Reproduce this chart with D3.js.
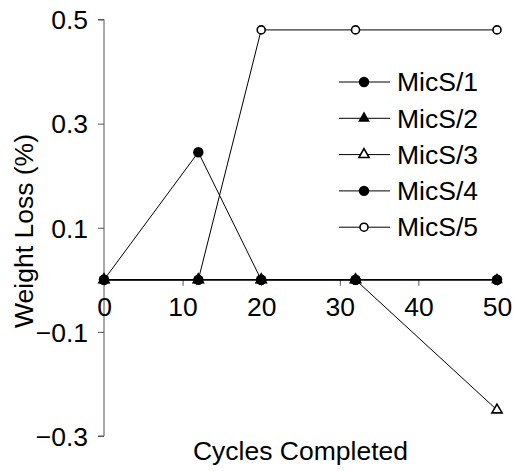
<!DOCTYPE html>
<html>
<head>
<meta charset="utf-8">
<script src="https://cdn.jsdelivr.net/npm/d3@7"></script>
<style>
  body { margin: 0; background: #fff; }
  text { font-family: Arial, "Liberation Sans", sans-serif; fill: #000; }
</style>
</head>
<body>
<script>
const width = 514;
const height = 471;

// Data.
const cycles = [0, 12, 20, 32, 50];
const seriesNames = ["MicS/1", "MicS/2", "MicS/3", "MicS/4", "MicS/5"];
const mics1 = [0, 0.245, 0, 0, 0];
const mics2 = [0, 0, 0, 0, 0];
const mics3 = [0, 0, 0, 0, -0.25];
const mics4 = [0, 0, 0, 0, 0];
const mics5 = [0, 0, 0.48, 0.48, 0.48];
const xTicks = [0, 10, 20, 30, 40, 50];
const yTicks = [0.5, 0.3, 0.1, -0.1, -0.3];

const seriesValues = [mics1, mics2, mics3, mics4, mics5];
// marker type per series
const markers = ["dot", "tri", "opentri", "dot", "ring"];

const svg = d3.select("body").append("svg")
  .attr("width", width)
  .attr("height", height);

const x = d3.scaleLinear().domain([0, 50]).range([104, 497]);
const y = d3.scaleLinear().domain([-0.3, 0.5]).range([436, 19.5]);

const fontSize = 26.5;

// Y axis (gray line, ticks to the left).
const yAxis = svg.append("g")
  .attr("transform", `translate(${x(0)},0)`)
  .call(d3.axisLeft(y).tickValues(yTicks).tickSize(6).tickPadding(10)
    .tickFormat(d3.format(".1f")));
yAxis.select(".domain").attr("stroke", "#555").attr("d", `M0,${y(0.5)}V${y(-0.3)}M-6,${y(0.5)}H0M-6,${y(-0.3)}H0`);
yAxis.selectAll(".tick line").attr("stroke", "#555");
yAxis.selectAll(".tick text").style("font-size", fontSize + "px").attr("dy", "0.35em");

// X axis crossing at zero.
const xAxis = svg.append("g")
  .attr("transform", `translate(0,${y(0)})`)
  .call(d3.axisBottom(x).tickValues(xTicks).tickSize(6).tickPadding(11)
    .tickFormat(d3.format("d")));
xAxis.select(".domain").attr("stroke", "#555").attr("d", `M${x(0)},0H${x(50)}`);
xAxis.selectAll(".tick line").attr("stroke", "#555");
xAxis.selectAll(".tick text").style("font-size", fontSize + "px");

// Axis titles.
svg.append("text")
  .attr("x", (x(0) + x(50)) / 2)
  .attr("y", 460)
  .attr("text-anchor", "middle")
  .style("font-size", fontSize + "px")
  .text("Cycles Completed");

svg.append("text")
  .attr("transform", `translate(33,${231}) rotate(-90)`)
  .attr("text-anchor", "middle")
  .style("font-size", fontSize + "px")
  .text("Weight Loss (%)");

// Marker drawing helper.
function drawMarker(sel, type) {
  if (type === "dot") {
    sel.append("circle").attr("r", 5.2).attr("fill", "#000");
  } else if (type === "ring") {
    sel.append("circle").attr("r", 4).attr("fill", "#fff")
      .attr("stroke", "#000").attr("stroke-width", 1.6);
  } else if (type === "tri") {
    sel.append("path").attr("d", d3.symbol(d3.symbolTriangle, 60)())
      .attr("fill", "#000");
  } else {
    sel.append("path").attr("d", d3.symbol(d3.symbolTriangle, 45)())
      .attr("fill", "#fff").attr("stroke", "#000").attr("stroke-width", 1.6);
  }
}

const line = d3.line()
  .x((d, i) => x(cycles[i]))
  .y(d => y(d));

// Lines first, then markers on top.
seriesValues.forEach(vals => {
  svg.append("path")
    .datum(vals)
    .attr("fill", "none")
    .attr("stroke", "#000")
    .attr("stroke-width", 1)
    .attr("d", line);
});

// Markers drawn from the last series to the first, so filled ones end up on top.
d3.range(seriesValues.length - 1, -1, -1).forEach(s => {
  seriesValues[s].forEach((v, i) => {
    const g = svg.append("g").attr("transform", `translate(${x(cycles[i])},${y(v)})`);
    drawMarker(g, markers[s]);
  });
});

// Legend.
const legend = svg.append("g").attr("transform", "translate(339,82)");
seriesNames.forEach((name, i) => {
  const row = legend.append("g").attr("transform", `translate(0,${i * 36.3})`);
  row.append("line").attr("x1", 0).attr("x2", 51).attr("y1", 0).attr("y2", 0)
    .attr("stroke", "#000").attr("stroke-width", 1);
  const m = row.append("g").attr("transform", "translate(25,0)");
  drawMarker(m, markers[i]);
  row.append("text").attr("x", 58).attr("dy", "0.35em")
    .style("font-size", fontSize + "px").text(name);
});
</script>
</body>
</html>
